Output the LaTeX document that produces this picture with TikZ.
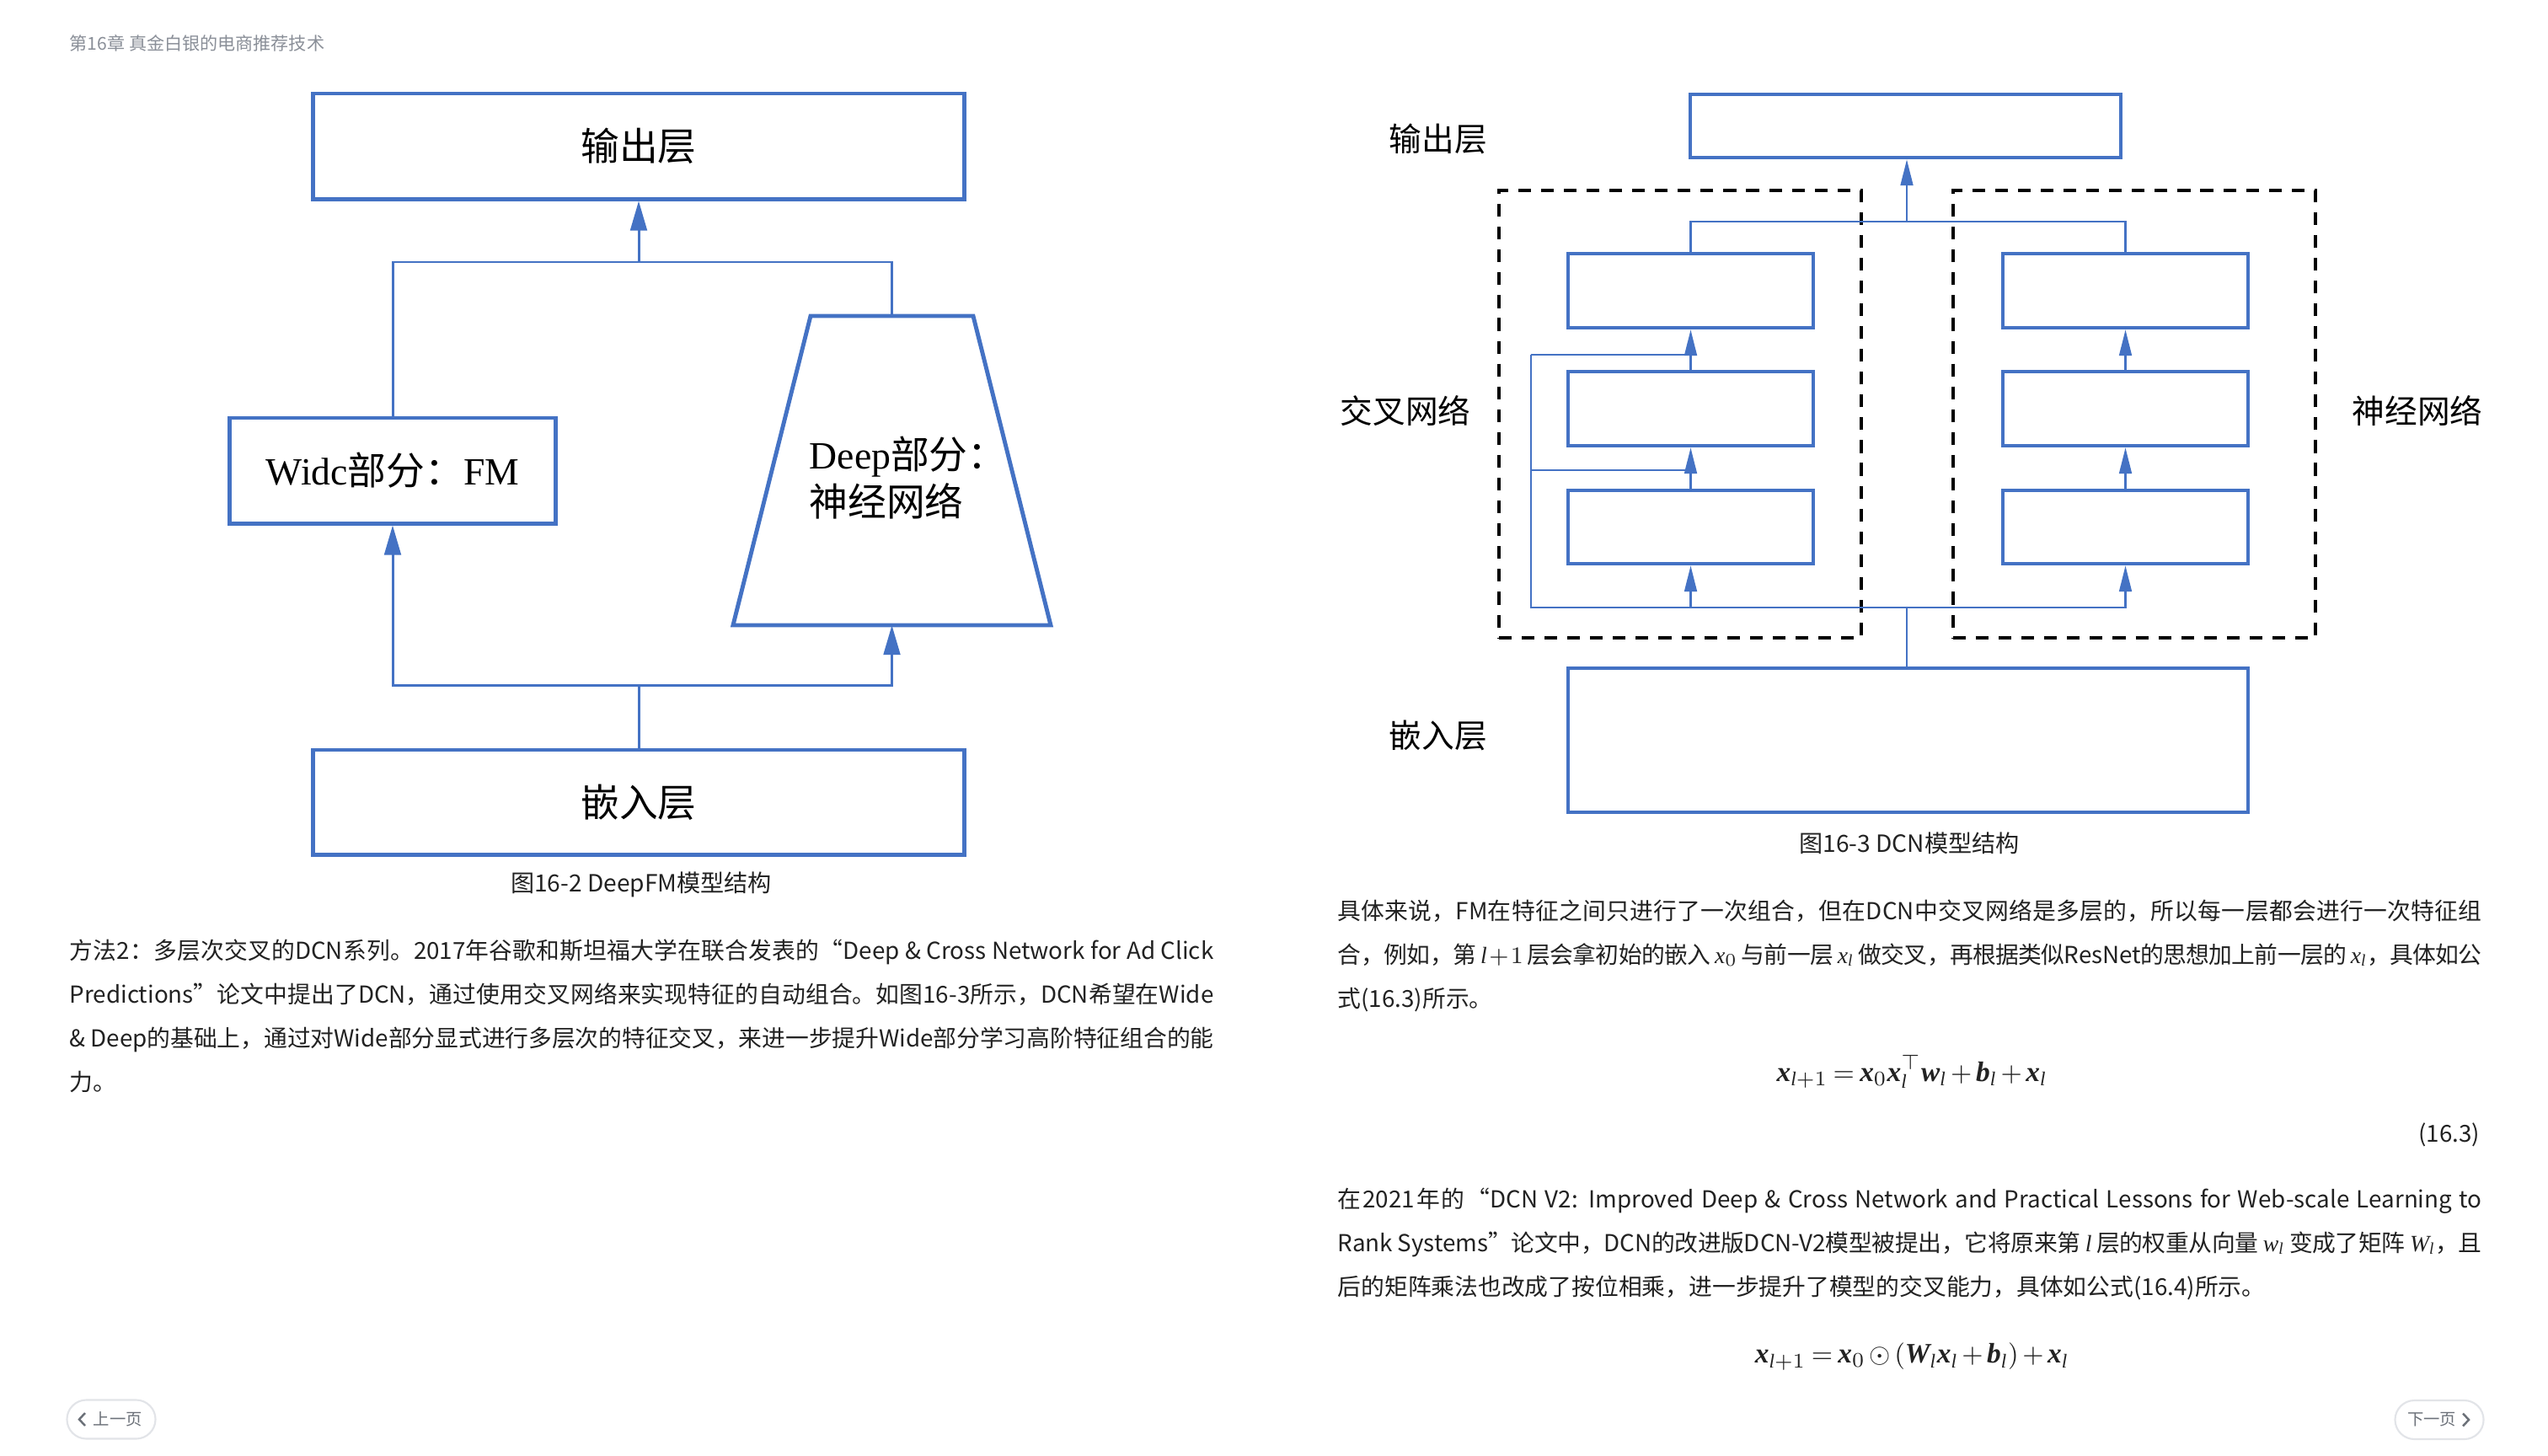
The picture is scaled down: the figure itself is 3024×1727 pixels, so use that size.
\documentclass[tikz,border=0pt]{standalone}
\usepackage{amsmath}
\usepackage{fontspec}
\setmainfont{Noto Sans CJK SC}
\newfontfamily\tnr{Liberation Serif}
\usetikzlibrary{arrows.meta}
\definecolor{lineblue}{HTML}{4472C4}
\definecolor{hdrgray}{HTML}{8A8F98}
\definecolor{btngray}{HTML}{6B7078}
\definecolor{btnborder}{HTML}{E2E4E8}
\definecolor{bodytext}{HTML}{222222}
\XeTeXlinebreaklocale "zh"
\XeTeXlinebreakskip=0pt plus 0.8pt minus 0.3pt
\newcommand{\bvx}[1]{\text{\tnr\bfseries\itshape #1}}
\newcommand{\ivx}[1]{\text{\tnr\itshape #1}}
\newcommand{\sil}{\text{\tnr\itshape l}}
\newcommand{\tightmath}{\thickmuskip=3.5mu\relax\medmuskip=2.5mu\relax}
\begin{document}
\begin{tikzpicture}[x=0.01cm, y=-0.01cm,
  lbox/.style={draw=lineblue, line width=1.4pt, inner sep=0pt, font=\fontsize{13pt}{16pt}\selectfont},
  lshape/.style={draw=lineblue, line width=1.4pt, line join=miter},
  lconn/.style={draw=lineblue, line width=0.85pt},
  larr/.style={lconn, -{Triangle[length=10pt,width=5.6pt]}},
  rbox/.style={draw=lineblue, line width=1.25pt, inner sep=0pt},
  rconn/.style={draw=lineblue, line width=0.65pt},
  rarr/.style={rconn, -{Triangle[length=8.8pt,width=4.2pt]}},
  dashbox/.style={draw=black, line width=0.95pt, dash pattern=on 4.3pt off 3.4pt, inner sep=0pt},
  dlabel/.style={font=\fontsize{13pt}{16pt}\selectfont, inner sep=0pt},
  rlabel/.style={font=\fontsize{11pt}{13pt}\selectfont, inner sep=0pt},
  capt/.style={font=\fontsize{8pt}{10pt}\selectfont, text=bodytext, inner sep=0pt},
  para/.style={font=\fontsize{7.9pt}{14.8pt}\selectfont, text=bodytext, inner sep=0pt, text width=13.57cm, align=justify, anchor=base west},
  eqn/.style={font=\fontsize{9.5pt}{12pt}\selectfont, text=bodytext, inner sep=0pt},
  pill/.style={draw=btnborder, line width=0.6pt, rounded corners=0.23cm, minimum width=1.05cm, minimum height=0.46cm, inner sep=0pt},
  btntext/.style={font=\fontsize{5.5pt}{7pt}\selectfont, text=btngray, inner sep=0pt},
  chev/.style={draw=btngray, line width=0.7pt}
]
\path[fill=white] (0,0) rectangle (3024,1727);
\useasboundingbox (0,0) rectangle (3024,1727);

% header
\node[anchor=west, font=\fontsize{6pt}{7pt}\selectfont, text=hdrgray, inner sep=0pt] (header) at (82,51) {第16章 真金白银的电商推荐技术};

% ================= Left diagram: DeepFM =================
\node[lbox, minimum width=7.72cm, minimum height=1.25cm] (out) at (758,173.5) {输出层};
\node[lbox, minimum width=3.86cm, minimum height=1.25cm] (wide) at (466,558.5) {{\tnr Widc}部分：{\tnr FM}};
\draw[lshape] (962,375) -- (1155,375) -- (1247,742) -- (870,742) -- cycle;
\coordinate (deeptop) at (1058.5,375);
\coordinate (deepbot) at (1058.5,742);
\node[dlabel, anchor=west, align=left] (deeptxt) at (960,567) {{\tnr Deep}部分：\\神经网络};
\node[lbox, minimum width=7.72cm, minimum height=1.24cm] (emb) at (758,952) {嵌入层};

\coordinate (jt) at (758,311);
\coordinate (jb) at (758,813);
\draw[lconn] (wide.north) |- (jt) -| (deeptop);
\draw[larr] (jt) -- (out.south);
\draw[lconn] (emb.north) -- (jb);
\draw[larr] (jb) -| (wide.south);
\draw[larr] (jb) -| (deepbot);

\node[capt] (cap1) at (761,1050) {图16-2 DeepFM模型结构};

% ================= Right diagram: DCN =================
\node[dashbox, minimum width=4.30cm, minimum height=5.31cm] (crossnet) at (1994,491.5) {};
\node[dashbox, minimum width=4.30cm, minimum height=5.31cm] (deepnet) at (2533,491.5) {};

\node[rbox, minimum width=5.11cm, minimum height=0.75cm] (rout) at (2261.5,149.5) {};
\node[rbox, minimum width=2.91cm, minimum height=0.88cm] (c1) at (2006.5,345) {};
\node[rbox, minimum width=2.91cm, minimum height=0.88cm] (c2) at (2006.5,485) {};
\node[rbox, minimum width=2.91cm, minimum height=0.87cm] (c3) at (2006.5,625.5) {};
\node[rbox, minimum width=2.91cm, minimum height=0.88cm] (d1) at (2522.5,345) {};
\node[rbox, minimum width=2.91cm, minimum height=0.88cm] (d2) at (2522.5,485) {};
\node[rbox, minimum width=2.91cm, minimum height=0.87cm] (d3) at (2522.5,625.5) {};
\node[rbox, minimum width=8.07cm, minimum height=1.71cm] (remb) at (2264.5,878.5) {};

\node[rlabel] (lout) at (1707,165) {输出层};
\node[rlabel] (lcross) at (1668,488) {交叉网络};
\node[rlabel] (ldeep) at (2869,488) {神经网络};
\node[rlabel] (lemb) at (1707,873) {嵌入层};

\coordinate (rjt) at (2263,263);
\coordinate (rjb) at (2263,721);
\coordinate (byb) at (1817,721);
\coordinate (bym) at (1817,558);
\coordinate (byt) at (1817,421);

\draw[rconn] (c1.north) |- (rjt) -| (d1.north);
\draw[rarr] (rjt) -- (rjt |- rout.south);
\draw[rconn] (rjb |- remb.north) -- (rjb);
\draw[rconn] (byt) -- (byb) -- (rjb);
\draw[rarr] (rjb) -| (d3.south);
\draw[rarr] (byb) -| (c3.south);
\draw[rarr] (c3.north) -- (c2.south);
\draw[rarr] (c2.north) -- (c1.south);
\draw[rarr] (d3.north) -- (d2.south);
\draw[rarr] (d2.north) -- (d1.south);
\draw[rconn] (bym) -- (bym -| c2.south);
\draw[rconn] (byt) -- (byt -| c1.south);

\node[capt] (cap2) at (2266,1001) {图16-3 DCN模型结构};

% ================= Left text =================
\node[para] (ptext1) at (82,1138) {方法2：多层次交叉的DCN系列。2017年谷歌和斯坦福大学在联合发表的“Deep \& Cross Network for Ad Click\linebreak
Predictions”论文中提出了DCN，通过使用交叉网络来实现特征的自动组合。如图16-3所示，DCN希望在Wide\linebreak
\& Deep的基础上，通过对Wide部分显式进行多层次的特征交叉，来进一步提升Wide部分学习高阶特征组合的能\linebreak
力。};

% ================= Right text =================
\node[para] (ptext2) at (1587,1091) {具体来说，FM在特征之间只进行了一次组合，但在DCN中交叉网络是多层的，所以每一层都会进行一次特征组\linebreak
合，例如，第 $\ivx{l}+1$ 层会拿初始的嵌入 $\ivx{x}_0$ 与前一层 $\ivx{x}_{\sil}$ 做交叉，再根据类似ResNet的思想加上前一层的 $\ivx{x}_{\sil}$，具体如公\linebreak
式(16.3)所示。};

\node[eqn] (eq1) at (2269,1272) {$\tightmath\bvx{x}_{\sil+1}=\bvx{x}_0\bvx{x}_{\sil}^{\top}\bvx{w}_{\sil}+\bvx{b}_{\sil}+\bvx{x}_{\sil}$};
\node[capt, anchor=east, font=\fontsize{7.9pt}{10pt}\selectfont] (eqnum) at (2944,1347) {(16.3)};

\node[para] (ptext3) at (1587,1433) {在2021年的“DCN V2: Improved Deep \& Cross Network and Practical Lessons for Web-scale Learning to\linebreak
Rank Systems”论文中，DCN的改进版DCN-V2模型被提出，它将原来第 $\ivx{l}$ 层的权重从向量 $\ivx{w}_{\sil}$ 变成了矩阵 $\ivx{W}_{\sil}$，且\linebreak
后的矩阵乘法也改成了按位相乘，进一步提升了模型的交叉能力，具体如公式(16.4)所示。};

\node[eqn] (eq2) at (2269,1610) {$\tightmath\bvx{x}_{\sil+1}=\bvx{x}_0\odot(\bvx{W}_{\sil}\bvx{x}_{\sil}+\bvx{b}_{\sil})+\bvx{x}_{\sil}$};

% ================= Buttons =================
\node[pill] (prev) at (132,1684.5) {};
\node[btntext] (prevtxt) at (140,1684.5) {上一页};
\draw[chev] (101,1677) -- (94,1684.5) -- (101,1692);
\node[pill] (next) at (2895,1685) {};
\node[btntext] (nexttxt) at (2886,1685) {下一页};
\draw[chev] (2923,1677.5) -- (2930,1685) -- (2923,1692.5);
\end{tikzpicture}
\end{document}
